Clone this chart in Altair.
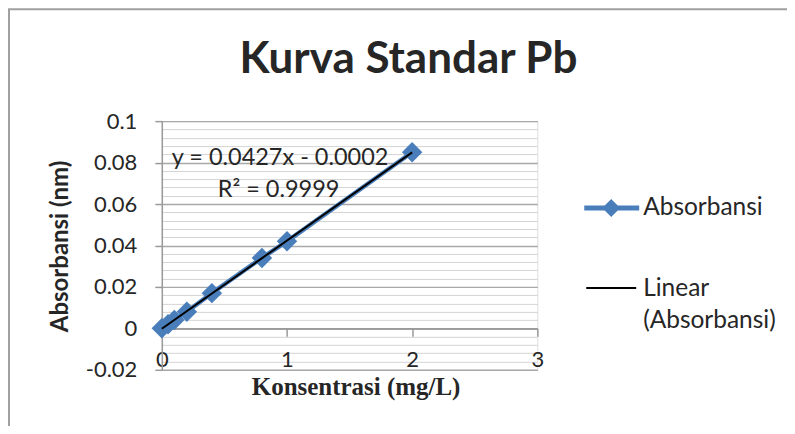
import altair as alt
import pandas as pd

# ---- data ----
konsentrasi = [0, 0.05, 0.1, 0.2, 0.4, 0.8, 1.0, 2.0]
absorbansi = [0.0, 0.002, 0.004, 0.008, 0.017, 0.034, 0.042, 0.085]

title_text = "Kurva Standar Pb"
x_title = "Konsentrasi (mg/L)"
y_title = "Absorbansi (nm)"
equation = "y = 0.0427x - 0.0002"
r_squared = "R² = 0.9999"
legend_series = "Absorbansi"
legend_trend = ["Linear", "(Absorbansi)"]

x_ticks = [0, 1, 2, 3]
y_ticks = [-0.02, 0, 0.02, 0.04, 0.06, 0.08, 0.1]
y_minor = [round(-0.02 + i * 0.004, 3) for i in range(31) if i % 5 != 0]

BLUE = "#4a7ebb"
TXT = "#262626"
AXIS = "#9a9a9a"
FONT = "Lato"

W, H = 376, 249

df = pd.DataFrame({"x": konsentrasi, "y": absorbansi})
one = pd.DataFrame({"a": [0]})

xs = alt.Scale(domain=[0, 3], nice=False, zero=False)
ys = alt.Scale(domain=[-0.02, 0.1], nice=False, zero=False)

zero_offset = -H * 0.02 / 0.12

# layer carrying x labels/title and minor y grid
carrier = alt.Chart(df).mark_point(opacity=0).encode(
    x=alt.X("x:Q", scale=xs, axis=alt.Axis(
        orient="bottom", values=x_ticks, domain=False, ticks=False, tickSize=0,
        grid=False, labelFont=FONT, labelFontSize=22, labelColor=TXT,
        labelBaseline="alphabetic", labelPadding=-3, labelFlush=False,
        title=x_title, titleFont="Liberation Serif", titleFontSize=25,
        titleFontWeight="bold", titleColor=TXT, titleBaseline="alphabetic",
        titleAlign="center", titleX=194, titleY=25, titleAnchor="middle")),
    y=alt.Y("y:Q", scale=ys, axis=alt.Axis(
        orient="right", values=y_minor, grid=True, gridColor="#d4d4d4",
        gridWidth=1, labels=False, ticks=False, domain=False, title=None)),
)

line = alt.Chart(df).mark_line(color=BLUE, strokeWidth=4.5).encode(
    x=alt.X("x:Q", scale=xs, axis=alt.Axis(
        orient="bottom", offset=zero_offset, values=x_ticks, labels=False,
        domainColor=AXIS, domainWidth=1.5, tickColor=AXIS, tickWidth=1.5,
        tickSize=8, grid=False, title=None)),
    y=alt.Y("y:Q", scale=ys, axis=alt.Axis(
        orient="left", values=y_ticks, grid=True, gridColor="#a8a8a8",
        gridWidth=1.4, domainColor=AXIS, domainWidth=1.5, tickColor=AXIS,
        tickWidth=1.5, tickSize=7, labelPadding=18, labelFont=FONT,
        labelFontSize=22, labelColor=TXT,
        labelExpr="replace(format(datum.value, '.2~f'), '\u2212', '-')",
        title=y_title, titleFont=FONT, titleFontSize=24, titleFontWeight="bold",
        titleColor=TXT, titleAngle=270, titleBaseline="alphabetic",
        titleAlign="center", titleX=-94, titleY=125)),
)

points = alt.Chart(df).mark_point(
    shape="diamond", filled=True, size=420, color=BLUE, opacity=1
).encode(
    x=alt.X("x:Q", scale=xs, axis=None),
    y=alt.Y("y:Q", scale=ys, axis=None),
)

trend = alt.Chart(df).transform_regression("x", "y").mark_line(
    color="#000000", strokeWidth=2
).encode(
    x=alt.X("x:Q", scale=xs, axis=None),
    y=alt.Y("y:Q", scale=ys, axis=None),
)

def txt(text, x, y, size=23.5, weight="normal", align="left", baseline="middle", font=FONT):
    return alt.Chart(one).mark_text(
        text=text, align=align, baseline=baseline, fontSize=size,
        fontWeight=weight, font=font, color=TXT
    ).encode(x=alt.value(x), y=alt.value(y))

border = alt.Chart(one).mark_rect(
    fill=None, stroke="#a0a0a0", strokeWidth=2
).encode(x=alt.value(-153), x2=alt.value(W + 300),
         y=alt.value(-112), y2=alt.value(H + 120))

title = txt(title_text, 247, -48, size=44, weight="bold", align="center",
            baseline="alphabetic")
eq1 = txt(equation, 10, 37)
eq2 = txt(r_squared, 56, 69)

leg_line1 = alt.Chart(one).mark_rule(color=BLUE, strokeWidth=5).encode(
    x=alt.value(423), x2=alt.value(478), y=alt.value(87))
leg_pt = alt.Chart(one).mark_point(shape="diamond", filled=True, size=320,
                                   color=BLUE, opacity=1).encode(
    x=alt.value(450), y=alt.value(87))
leg_line2 = alt.Chart(one).mark_rule(color="#000000", strokeWidth=2).encode(
    x=alt.value(425), x2=alt.value(475), y=alt.value(167))
leg_t1 = txt(legend_series, 482, 87, size=24.5)
leg_t2 = txt(legend_trend[0], 482, 168, size=24.5)
leg_t3 = txt(legend_trend[1], 482, 200, size=24.5)

chart = alt.layer(
    border, carrier, line, points, trend, title, eq1, eq2,
    leg_line1, leg_pt, leg_line2, leg_t1, leg_t2, leg_t3
).resolve_axis(x="independent", y="independent").properties(
    width=W, height=H,
    autosize=alt.AutoSizeParams(type="none"),
    padding={"left": 154, "top": 113, "right": 250, "bottom": 56},
).configure_view(stroke=None).configure(background="white")

chart.save("out.html", embed_options={"renderer": "svg", "actions": False})
